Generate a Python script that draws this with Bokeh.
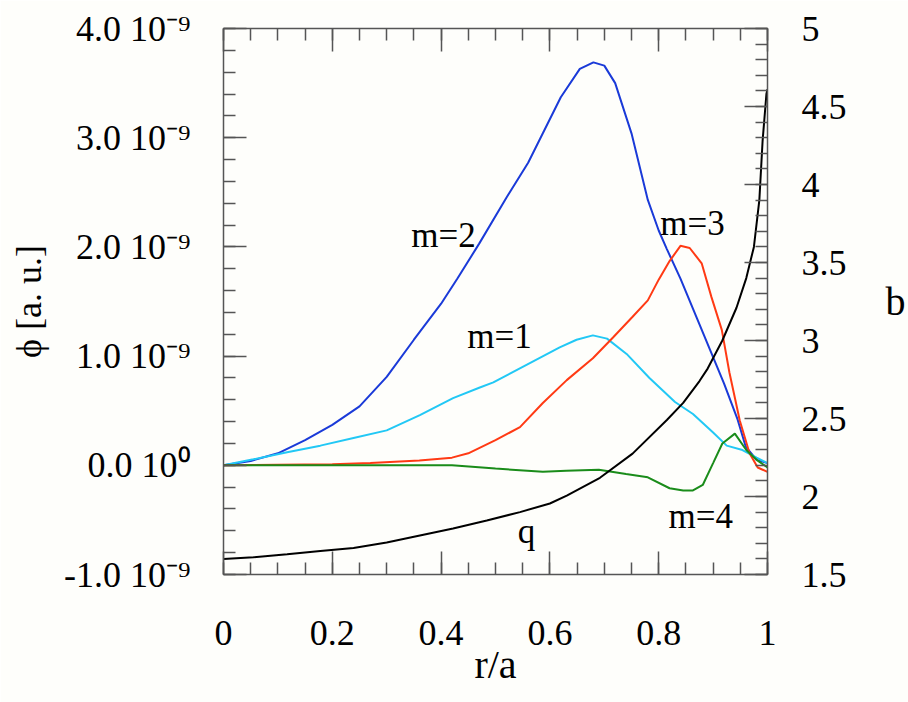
from bokeh.plotting import figure
from bokeh.models import Range1d, LinearAxis, FixedTicker, SingleIntervalTicker, Label
from bokeh.embed import file_html
from bokeh.resources import INLINE

# ---------------- data ----------------
# phi curves in units of 1e-9 (left axis)
m1_r = [0, 0.055, 0.117, 0.178, 0.239, 0.30, 0.361, 0.422, 0.47, 0.496, 0.557, 0.618, 0.649, 0.679,
        0.705, 0.741, 0.783, 0.83, 0.863, 0.90, 0.925, 0.954, 0.98, 1.0]
m1 = [0, 0.055, 0.12, 0.18, 0.25, 0.32, 0.46, 0.615, 0.71, 0.76, 0.92, 1.08, 1.15, 1.19,
      1.16, 1.02, 0.80, 0.58, 0.47, 0.30, 0.18, 0.14, 0.07, 0.02]

m2_r = [0, 0.05, 0.1, 0.15, 0.2, 0.25, 0.3, 0.35, 0.4, 0.43, 0.47, 0.52, 0.56, 0.62, 0.655, 0.68,
        0.70, 0.72, 0.75, 0.78, 0.80, 0.815, 0.84, 0.87, 0.895, 0.92, 0.945, 0.96, 0.98, 1.0]
m2 = [0, 0.04, 0.11, 0.23, 0.37, 0.54, 0.81, 1.15, 1.48, 1.71, 2.03, 2.45, 2.77, 3.37, 3.63, 3.69,
      3.66, 3.50, 3.04, 2.43, 2.15, 1.98, 1.71, 1.35, 1.05, 0.75, 0.42, 0.17, 0.05, 0.02]

m3_r = [0, 0.1, 0.2, 0.27, 0.36, 0.42, 0.45, 0.5, 0.545, 0.587, 0.631, 0.679, 0.716, 0.752, 0.78,
        0.80, 0.82, 0.84, 0.857, 0.879, 0.897, 0.916, 0.93, 0.949, 0.967, 0.982, 1.0]
m3 = [0, 0.005, 0.01, 0.02, 0.045, 0.07, 0.11, 0.23, 0.35, 0.57, 0.78, 0.98, 1.17, 1.36, 1.51,
      1.70, 1.87, 2.01, 1.99, 1.85, 1.54, 1.24, 0.85, 0.41, 0.11, -0.02, -0.06]

m4_r = [0, 0.1, 0.2, 0.3, 0.42, 0.5, 0.587, 0.63, 0.69, 0.74, 0.78, 0.82, 0.845, 0.863, 0.881,
        0.9, 0.917, 0.94, 0.961, 0.98, 1.0]
m4 = [0, 0.0, 0.0, 0.0, 0.0, -0.03, -0.06, -0.05, -0.04, -0.08, -0.11, -0.21, -0.23, -0.23, -0.18,
      0.02, 0.20, 0.29, 0.14, 0.05, -0.02]

# safety factor q (right axis, "b")
q_r = [0, 0.055, 0.117, 0.178, 0.239, 0.3, 0.361, 0.422, 0.484, 0.545, 0.6, 0.631, 0.692, 0.752,
       0.815, 0.845, 0.875, 0.89, 0.917, 0.943, 0.961, 0.975, 0.985, 0.991, 0.998, 1.0]
q = [1.60, 1.61, 1.63, 1.65, 1.67, 1.705, 1.75, 1.795, 1.846, 1.90, 1.955, 2.006, 2.12, 2.275,
     2.49, 2.60, 2.74, 2.82, 3.0, 3.21, 3.40, 3.60, 3.90, 4.28, 4.58, 4.61]

x_ticks = [0, 0.2, 0.4, 0.6, 0.8, 1.0]
x_tick_labels = ["0", "0.2", "0.4", "0.6", "0.8", "1"]
left_ticks = [-1, 0, 1, 2, 3, 4]
left_tick_labels = ["-1.0 10\u207b\u2079", "0.0 10\u2070", "1.0 10\u207b\u2079",
                    "2.0 10\u207b\u2079", "3.0 10\u207b\u2079", "4.0 10\u207b\u2079"]
right_ticks = [1.5, 2, 2.5, 3, 3.5, 4, 4.5, 5]
right_tick_labels = ["1.5", "2", "2.5", "3", "3.5", "4", "4.5", "5"]

# ---------------- styling ----------------
FONT = "Liberation Serif"
BG = "#fefefb"
AX = "#555555"
C_M1 = "#22c8f5"
C_M2 = "#1a3ad8"
C_M3 = "#ff3a14"
C_M4 = "#1a8c1a"

p = figure(width=908, height=702, output_backend="svg", toolbar_location=None,
           x_range=Range1d(0, 1), y_range=Range1d(-1, 4),
           min_border_left=223, min_border_right=140, min_border_top=28, min_border_bottom=128,
           background_fill_color=BG, border_fill_color=BG, outline_line_color=None)
p.grid.visible = False
p.extra_y_ranges = {"b": Range1d(1.5, 5)}


def style(ax, size="36px"):
    ax.major_tick_in = 23
    ax.major_tick_out = 0
    ax.minor_tick_in = 12
    ax.minor_tick_out = 0
    ax.axis_line_color = AX
    ax.major_tick_line_color = AX
    ax.minor_tick_line_color = AX
    ax.axis_line_width = 1.5
    ax.major_tick_line_width = 1.5
    ax.minor_tick_line_width = 1.5
    ax.major_label_text_font = FONT
    ax.major_label_text_font_size = size
    ax.major_label_text_color = "black"
    ax.axis_label_text_font = FONT
    ax.axis_label_text_font_style = "normal"
    ax.axis_label_text_color = "black"


minor_x = [round(i * 0.05, 2) for i in range(21)]

xa = p.xaxis[0]
style(xa)
xa.ticker = FixedTicker(ticks=x_ticks, minor_ticks=minor_x)
xa.major_label_overrides = dict(zip(x_ticks, x_tick_labels))
xa.major_label_standoff = 46
xa.axis_label = "r/a"
xa.axis_label_text_font_size = "40px"
xa.axis_label_standoff = -6

ya = p.yaxis[0]
style(ya)
ya.ticker = SingleIntervalTicker(interval=1, num_minor_ticks=5)
ya.major_label_overrides = dict(zip(left_ticks, left_tick_labels))
ya.major_label_standoff = 33
ya.axis_label = "\u03d5 [a. u.]"
ya.axis_label_text_font_size = "36px"
ya.axis_label_standoff = 12

top = LinearAxis(ticker=FixedTicker(ticks=x_ticks, minor_ticks=minor_x))
style(top)
top.major_label_text_font_size = "0px"
top.major_label_standoff = 0
p.add_layout(top, "above")

ra = LinearAxis(y_range_name="b", ticker=SingleIntervalTicker(interval=0.5, num_minor_ticks=5))
style(ra)
ra.major_label_overrides = dict(zip(right_ticks, right_tick_labels))
ra.major_label_standoff = 34
ra.axis_label = "b"
ra.axis_label_text_font_size = "40px"
ra.axis_label_orientation = "horizontal"
ra.axis_label_standoff = 36
p.add_layout(ra, "right")

p.line(m2_r, m2, line_color=C_M2, line_width=2)
p.line(m1_r, m1, line_color=C_M1, line_width=2)
p.line(m3_r, m3, line_color=C_M3, line_width=2)
p.line(m4_r, m4, line_color=C_M4, line_width=2)
p.line(q_r, q, line_color="black", line_width=2, y_range_name="b")

for txt, x, y in [("m=2", 0.345, 2.1), ("m=1", 0.448, 1.18), ("m=3", 0.803, 2.21),
                  ("m=4", 0.818, -0.47), ("q", 0.541, -0.61)]:
    p.add_layout(Label(x=x, y=y, text=txt, text_font=FONT, text_font_size="35px",
                       text_color="black", text_align="left", text_baseline="alphabetic"))

open("out.html", "w").write(file_html(p, INLINE))
